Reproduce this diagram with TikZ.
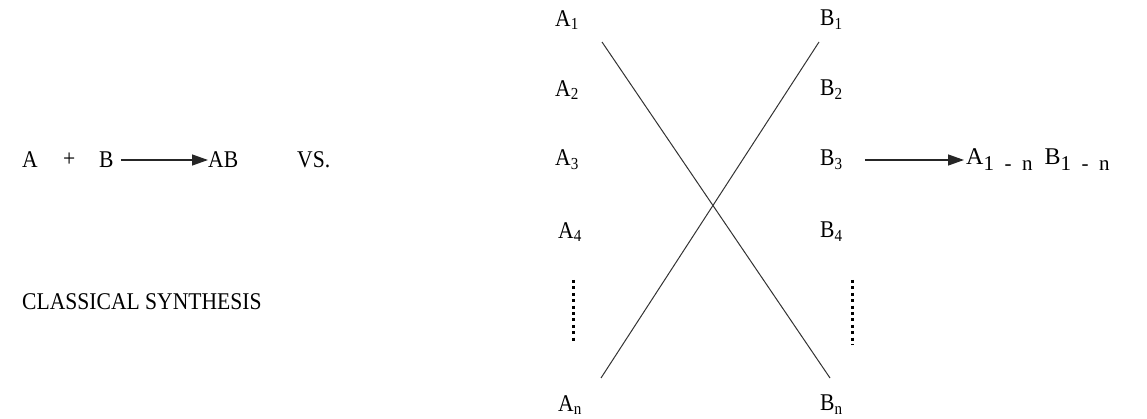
\documentclass[tikz,border=0pt]{standalone}
\usepackage{graphicx}
\usepackage{fontspec}
\setmainfont{Liberation Serif}
\usetikzlibrary{arrows.meta}

% slightly condensed lettering
\newcommand{\nar}[1]{\scalebox{0.9}[1]{#1}}
% spaced-out range index
\newcommand{\rng}{\raisebox{-0.25em}{\fontsize{21}{24}\selectfont 1\enspace-\enspace n}}

\tikzset{
  lbl/.style={anchor=west,inner sep=0pt},
  rxn/.style={-{Triangle[length=16pt,width=11pt]},line width=1.3pt,black!85},
  cross/.style={line width=1pt,black!80},
  vdots/.style={line width=3pt,dash pattern=on 3pt off 3.4pt}
}

\begin{document}
\begin{tikzpicture}[x=1pt,y=-1pt,font=\fontsize{24}{28}\selectfont]
\useasboundingbox (0,0) rectangle (1147,419);

% classical route
\node[lbl] (A) at (22,160) {\nar{A}};
\node[lbl] (plus) at (63,160) {\nar{+}};
\node[lbl] (B) at (99,160) {\nar{B}};
\node[lbl] (AB) at (208,160) {\nar{AB}};
\node[lbl] (vs) at (297,160) {\nar{VS.}};
\node[lbl] (cls) at (22,302) {\nar{CLASSICAL SYNTHESIS}};

\draw[rxn,shorten <=7pt] (B.east) -- (AB.west);

% the two columns
\node[lbl] (A1) at (555,20) {\nar{A\textsubscript{1}}};
\node[lbl] (A2) at (555,90) {\nar{A\textsubscript{2}}};
\node[lbl] (A3) at (555,160) {\nar{A\textsubscript{3}}};
\node[lbl] (A4) at (558,232) {\nar{A\textsubscript{4}}};
\node[lbl] (An) at (558,405) {\nar{A\textsubscript{n}}};

\node[lbl] (B1) at (820,20) {\nar{B\textsubscript{1}}};
\node[lbl] (B2) at (820,90) {\nar{B\textsubscript{2}}};
\node[lbl] (B3) at (820,160) {\nar{B\textsubscript{3}}};
\node[lbl] (B4) at (820,232) {\nar{B\textsubscript{4}}};
\node[lbl] (Bn) at (820,405) {\nar{B\textsubscript{n}}};

\node[lbl] (prod) at (966,160) {A\rng\enspace B\rng};

% ends of the crossing lines
\coordinate (a1) at (602,42);
\coordinate (bn) at (830,378);
\coordinate (b1) at (819,42);
\coordinate (an) at (601,378);

\draw[cross] (a1) -- (bn);
\draw[cross] (b1) -- (an);

% dotted gaps
\coordinate (da) at (573,280);
\coordinate (db) at (573,343);
\coordinate (dc) at (852,280);
\coordinate (dd) at (852,345);
\draw[vdots] (da) -- (db);
\draw[vdots] (dc) -- (dd);

\draw[rxn,shorten <=22pt,shorten >=2pt] (B3.east) -- (prod.west);
\end{tikzpicture}
\end{document}
